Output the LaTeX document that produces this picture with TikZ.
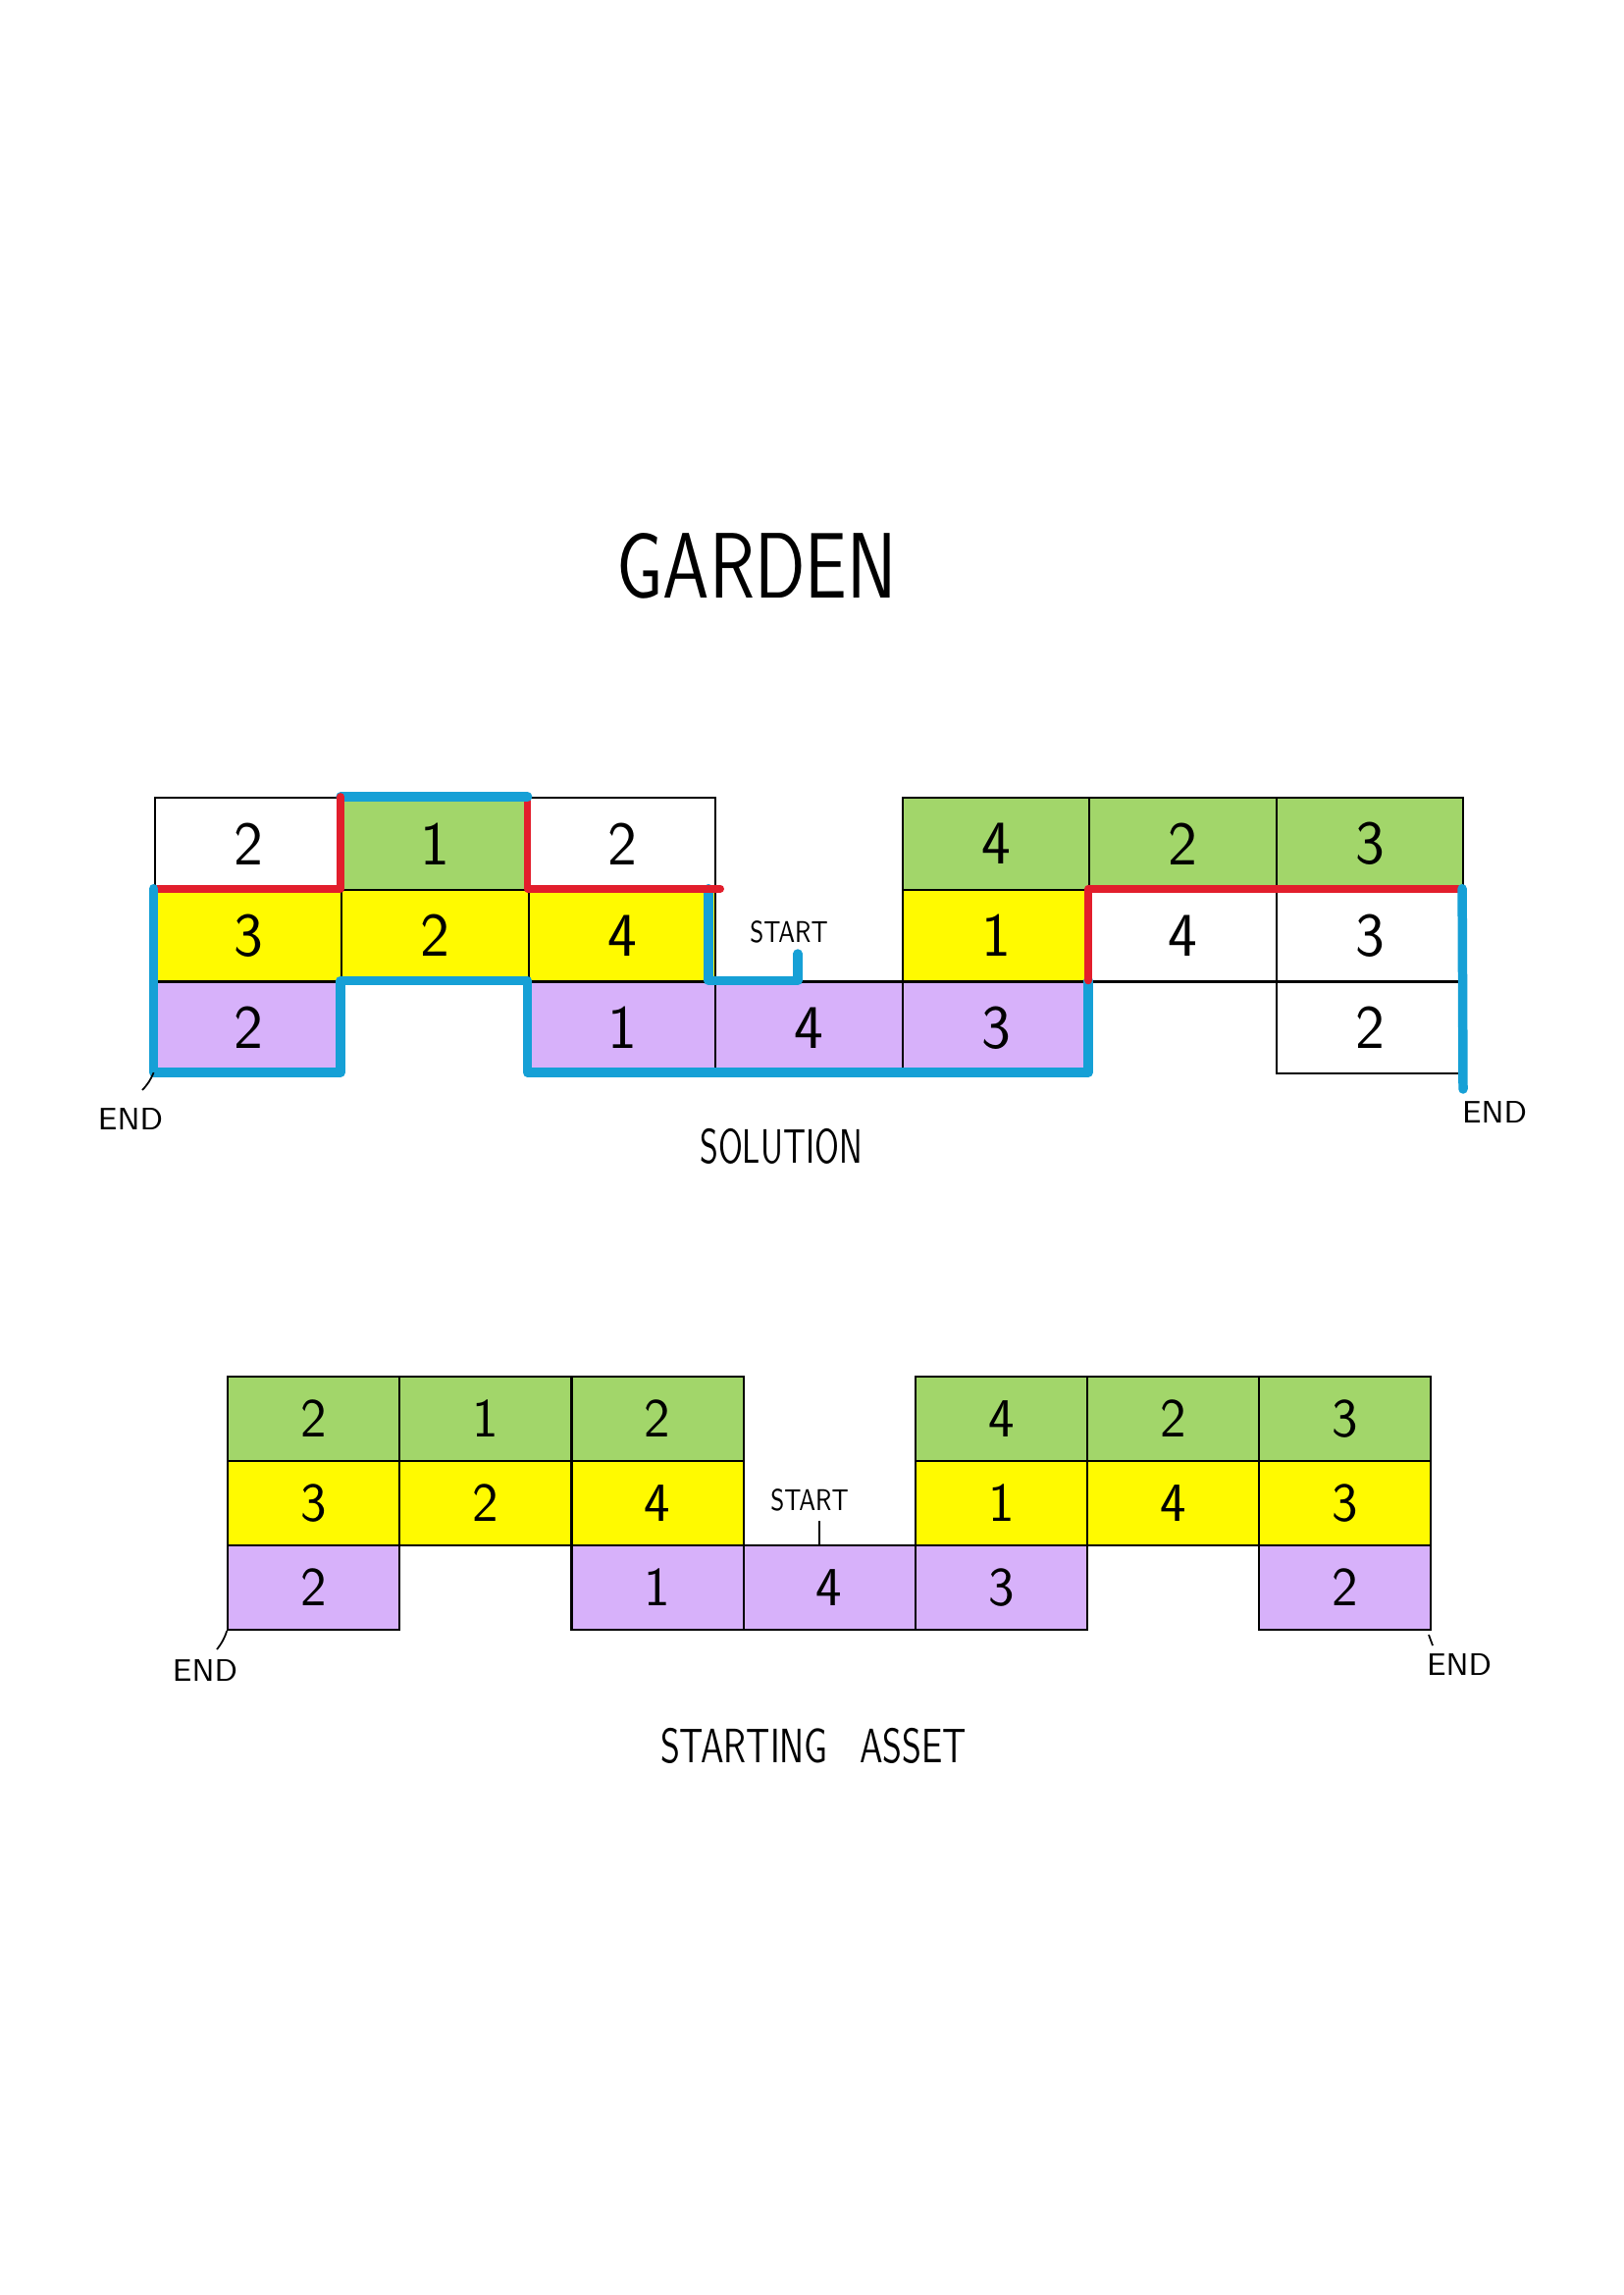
\documentclass[tikz,border=0pt]{standalone}
\usepackage{graphicx}
\definecolor{cgreen}{RGB}{162,214,106}
\definecolor{cyellow}{RGB}{255,250,0}
\definecolor{cpurple}{RGB}{215,177,250}
\definecolor{cblue}{RGB}{22,160,214}
\definecolor{cred}{RGB}{226,30,44}
\tikzset{
  tcell/.style={draw=black, line width=0.6pt, anchor=north west, inner sep=0pt,
    minimum width=19.05mm, minimum height=9.37mm, font=\sffamily\fontsize{18}{20}\selectfont},
  bcell/.style={draw=black, line width=0.6pt, anchor=north west, inner sep=0pt,
    minimum width=17.51mm, minimum height=8.6mm, font=\sffamily\fontsize{16}{18}\selectfont},
  hand/.style={inner sep=0pt, font=\sffamily},
  bluepath/.style={draw=cblue, line width=2.7pt, line join=round, line cap=round},
  redpath/.style={draw=cred, line width=2.2pt, line join=round, line cap=round},
  tickline/.style={draw=black, line width=0.5pt}
}
\begin{document}
\begin{tikzpicture}[x=0.1mm,y=-0.1mm]
\useasboundingbox (0,0) rectangle (1654,2339);
\fill[white] (0,0) rectangle (1654,2339);

% title
\node[hand] (title) at (771,577) {\fontsize{27}{30}\selectfont\scalebox{0.8}[1]{GARDEN}};

% ---------- solution grid ----------
\foreach \c/\r/\col/\t in {0/0/white/2, 1/0/cgreen/1, 2/0/white/2, 4/0/cgreen/4, 5/0/cgreen/2, 6/0/cgreen/3,
  0/1/cyellow/3, 1/1/cyellow/2, 2/1/cyellow/4, 4/1/cyellow/1, 5/1/white/4, 6/1/white/3,
  0/2/cpurple/2, 2/2/cpurple/1, 3/2/cpurple/4, 4/2/cpurple/3, 6/2/white/2}
  \node[tcell, fill=\col] (s\c\r) at ({156.6+\c*190.5},{812+\r*93.7}) {\t};

\foreach \i in {0,...,7}
  \foreach \j in {0,...,3}
    \coordinate (g\i-\j) at ({156.6+\i*190.5},{812+\j*93.7});

\coordinate (st) at (813,972);
\coordinate (endR) at (1491,1110);
\coordinate (endLt) at (145,1111);

% solution route
\draw[bluepath] (st) -- (st |- g3-2) -- ([xshift=-0.6mm]g3-2) -- ([xshift=-0.6mm]g3-1);
\draw[redpath] ([xshift=0.6mm]g3-1) -- (g2-1) -- (g2-0);
\draw[bluepath] (g2-0) -- (g1-0);
\draw[redpath] (g1-0) -- (g1-1) -- (g0-1);
\draw[bluepath] (g0-1) -- (g0-3) -- (g1-3) -- (g1-2) -- (g2-2) -- (g2-3) -- (g5-3) -- (g5-2);
\draw[redpath] (g5-2) -- (g5-1) -- (g7-1);
\draw[bluepath] (g7-1) -- (endR);

\node[hand, font=\sffamily\fontsize{8.7}{10}\selectfont] (startA) at (804,950) {\scalebox{0.8}[1]{START}};
\draw[tickline] (g0-3) to[bend left=10] (endLt);
\node[hand, font=\sffamily\fontsize{9}{10}\selectfont] (endA) at (133,1141) {END};
\node[hand, font=\sffamily\fontsize{9}{10}\selectfont] (endB) at (1523,1134) {END};
\node[hand, font=\sffamily\fontsize{14}{16}\selectfont] (sol) at (796,1168) {\scalebox{0.7}[1]{SOLUTION}};

% ---------- starting grid ----------
\foreach \c/\r/\col/\t in {0/0/cgreen/2, 1/0/cgreen/1, 2/0/cgreen/2, 4/0/cgreen/4, 5/0/cgreen/2, 6/0/cgreen/3,
  0/1/cyellow/3, 1/1/cyellow/2, 2/1/cyellow/4, 4/1/cyellow/1, 5/1/cyellow/4, 6/1/cyellow/3,
  0/2/cpurple/2, 2/2/cpurple/1, 3/2/cpurple/4, 4/2/cpurple/3, 6/2/cpurple/2}
  \node[bcell, fill=\col] (a\c\r) at ({231.2+\c*175.1},{1402+\r*86}) {\t};

\coordinate (stB) at (835,1550);
\coordinate (endC) at (221,1681);
\coordinate (endD) at (1460,1677);
\draw[tickline] (stB) -- (a32.north -| stB);
\node[hand, font=\sffamily\fontsize{8.7}{10}\selectfont] (startB) at (825,1529) {\scalebox{0.8}[1]{START}};
\draw[tickline] (a02.south west) to[bend left=10] (endC);
\draw[tickline] ([xshift=-0.3mm,yshift=-0.4mm]a62.south east) -- (endD);
\node[hand, font=\sffamily\fontsize{9}{10}\selectfont] (endC1) at (209,1703) {END};
\node[hand, font=\sffamily\fontsize{9}{10}\selectfont] (endD1) at (1487,1697) {END};
\node[hand, font=\sffamily\fontsize{14}{16}\selectfont] (asset) at (829,1779) {\scalebox{0.74}[1]{STARTING\hspace{0.9em}ASSET}};
\end{tikzpicture}
\end{document}
